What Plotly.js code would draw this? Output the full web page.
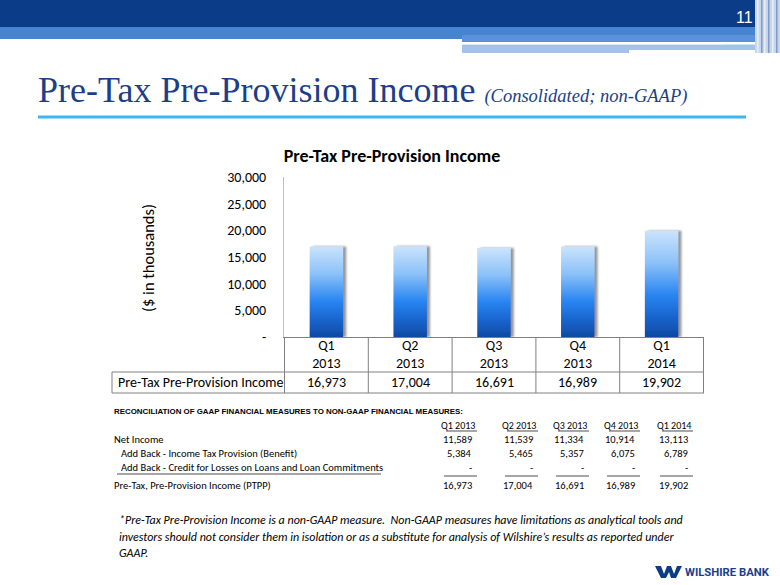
<!DOCTYPE html>
<html>
<head>
<meta charset="utf-8">
<script src="https://cdn.plot.ly/plotly-3.0.1.min.js"></script>
<style>
  html, body { margin: 0; padding: 0; background: #ffffff; }
  #chart { width: 780px; height: 585px; }
</style>
</head>
<body>
<div id="chart"></div>
<script>
// ---------------- data ----------------
const quarters = ['Q1 2013', 'Q2 2013', 'Q3 2013', 'Q4 2013', 'Q1 2014'];
const ptppIncome = [16973, 17004, 16691, 16989, 19902];
const netIncome = [11589, 11539, 11334, 10914, 13113];
const taxProvision = [5384, 5465, 5357, 6075, 6789];
const creditLosses = [0, 0, 0, 0, 0];
const yTickVals = [0, 5000, 10000, 15000, 20000, 25000, 30000];
const yTickText = ['-', '5,000', '10,000', '15,000', '20,000', '25,000', '30,000'];
const seriesName = 'Pre-Tax Pre-Provision Income';
const reconRows = ['Net Income', 'Add Back - Income Tax Provision (Benefit)',
  'Add Back - Credit for Losses on Loans and Loan Commitments', 'Pre-Tax, Pre-Provision Income (PTPP)'];

// ---------------- geometry helpers (pixel -> paper) ----------------
const L = 284, R = 704, T = 177, B = 337;
const X = px => (px - L) / (R - L);
const Y = py => (B - py) / (B - T);
const fmt = v => (v === 0 ? '-' : v.toLocaleString('en-US'));

const FONT = 'Carlito, Lato, "Liberation Sans", sans-serif';
const NAVY = '#0b3c87';

const shapes = [];
const annotations = [];
function rect(x0, y0, x1, y1, color) {
  shapes.push({type: 'rect', xref: 'paper', yref: 'paper', x0: X(x0), x1: X(x1), y0: Y(y0), y1: Y(y1),
    fillcolor: color, line: {width: 0}, layer: 'below'});
}
function hline(x0, x1, y, color, w) {
  shapes.push({type: 'line', xref: 'paper', yref: 'paper', x0: X(x0), x1: X(x1), y0: Y(y), y1: Y(y),
    line: {color: color, width: w || 1}});
}
function vlinePx(x, y0, y1, color) {
  shapes.push({type: 'line', xref: 'paper', yref: 'paper', x0: X(x), x1: X(x), y0: Y(y0), y1: Y(y1),
    line: {color: color, width: 1}});
}
function txt(px, py, text, size, opts) {
  opts = opts || {};
  annotations.push(Object.assign({
    xref: 'paper', yref: 'paper', x: X(px), y: Y(py), text: text, showarrow: false,
    xanchor: 'left', yanchor: 'middle',
    font: {family: opts.family || FONT, size: size, color: opts.color || '#000000'}
  }, opts.extra || {}));
}

// ---------------- slide header ----------------
rect(0, 0, 780, 27, NAVY);
rect(0, 27, 780, 35, '#4683d1');
rect(0, 35, 462, 39, '#4683d1');
rect(462, 35, 780, 42, '#5a91d8');
hline(462, 723, 43.5, '#ffffff', 1.5);
rect(462, 44.5, 629, 53, '#a5c3ea');
rect(629, 44.5, 760, 50, '#a5c3ea');
rect(755, 0, 780, 53, '#c9d6ea');
[757, 761, 764, 768, 772, 776].forEach((x, i) => rect(x, 0, x + 1.5, 53, i % 2 ? '#7f9cc8' : '#e8eef7'));
txt(734, 17, '11', 16, {color: '#ffffff', family: '"Liberation Sans", Arial, sans-serif', extra: {xanchor: 'left'}});

// slide title
txt(36, 90, 'Pre-Tax Pre-Provision Income <i><span style="font-size:18.5px">(Consolidated; non-GAAP)</span></i>', 36,
  {color: '#1c3f87', family: '"Liberation Serif", "DejaVu Serif", serif'});
hline(38, 746, 117, '#3fb5f2', 3);

// y-axis title
txt(148, 258, '($ in thousands)', 16.5, {extra: {textangle: -90, xanchor: 'center'}});

// ---------------- data table under the chart ----------------
const GRID = '#808080';
for (let i = 0; i <= quarters.length; i++) {
  shapes.push({type: 'line', xref: 'x', yref: 'paper', x0: i - 0.5, x1: i - 0.5, y0: 0, y1: Y(393),
    line: {color: GRID, width: 1}});
}
hline(112, 704, 372, GRID, 1);
hline(112, 704, 393, GRID, 1);
vlinePx(112, 372, 393, GRID);
txt(116, 382.5, seriesName, 14);
ptppIncome.forEach((v, i) => {
  annotations.push({xref: 'x', yref: 'paper', x: i, y: Y(382.5), text: fmt(v), showarrow: false,
    xanchor: 'center', yanchor: 'middle', font: {family: FONT, size: 14, color: '#000'}});
});

// ---------------- reconciliation table ----------------
const colRight = [476, 537, 588, 639, 692];
txt(112, 411, '<b>RECONCILIATION OF GAAP FINANCIAL MEASURES TO NON-GAAP FINANCIAL MEASURES:</b>', 7.9,
  {family: '"Liberation Sans", Arial, sans-serif'});
const rowY = [439, 453, 467, 485];
const rowX = [112, 119, 119, 112];
const rowData = [netIncome, taxProvision, creditLosses, ptppIncome];
quarters.forEach((q, i) => {
  txt(colRight[i] + 1, 425, q, 10, {extra: {xanchor: 'right'}});
  hline(colRight[i] - 30, colRight[i] + 1, 431, '#000000', 0.7);
  hline(colRight[i] - 32, colRight[i] + 1, 476, '#000000', 0.7);
});
reconRows.forEach((name, r) => {
  txt(rowX[r], rowY[r], name, 10.5);
  rowData[r].forEach((v, i) => txt(colRight[i] - 2, rowY[r], fmt(v), 10.5, {extra: {xanchor: 'right'}}));
});
hline(117, 381, 474, '#000000', 0.7);

// ---------------- footnote ----------------
const foot = ['*Pre-Tax Pre-Provision Income is a non-GAAP measure.  Non-GAAP measures have limitations as analytical tools and',
  'investors should not consider them in isolation or as a substitute for analysis of Wilshire\u2019s results as reported under',
  'GAAP.'];
foot.forEach((line, i) => txt(117, 520 + i * 16.5, '<i>' + line + '</i>', 12));

// ---------------- logo ----------------
function pathPx(pts) {
  return 'M' + pts.map(p => X(p[0]).toFixed(4) + ',' + Y(p[1]).toFixed(4)).join(' L') + ' Z';
}
shapes.push({type: 'path', xref: 'paper', yref: 'paper', fillcolor: NAVY, line: {width: 0},
  path: pathPx([[655, 566], [661, 566], [664, 574], [667, 566], [671, 566], [674, 574], [677, 566], [682, 566],
    [676, 578], [671, 578], [669, 572], [666, 578], [661, 578]])});
txt(683, 572, '<b>WILSHIRE BANK</b>', 11.3, {color: '#1b3f8a', family: 'Roboto, "Liberation Sans", sans-serif'});

// ---------------- chart ----------------
const data = [{
  type: 'bar',
  x: quarters,
  y: ptppIncome,
  name: seriesName,
  marker: {color: '#2f86ee', line: {width: 0}},
  hoverinfo: 'skip'
}];

const layout = {
  width: 780, height: 585,
  margin: {l: L, r: 780 - R, t: T, b: 585 - B, pad: 0},
  paper_bgcolor: '#ffffff', plot_bgcolor: 'rgba(0,0,0,0)',
  showlegend: false,
  bargap: 0.6,
  font: {family: FONT, size: 14, color: '#000000'},
  title: {text: '<b>Pre-Tax Pre-Provision Income</b>', x: 392 / 780, xanchor: 'center',
    y: 1 - 156 / 585, yanchor: 'middle', font: {family: FONT, size: 18, color: '#000000'}},
  xaxis: {
    type: 'category', tickvals: quarters, ticktext: quarters.map(q => q.replace(' ', '<br>')),
    ticks: '', showline: true, linecolor: GRID, linewidth: 1, showgrid: false, zeroline: false,
    ticklabelstandoff: -5,
    tickfont: {family: FONT, size: 14, color: '#000'}, automargin: false, fixedrange: true
  },
  yaxis: {
    range: [0, 30000], tickvals: yTickVals, ticktext: yTickText,
    ticks: '', showline: true, linecolor: '#bfbfbf', linewidth: 1, showgrid: false, zeroline: false,
    ticklabelstandoff: 14, tickfont: {family: FONT, size: 14, color: '#000'}, automargin: false, fixedrange: true
  },
  shapes: shapes,
  annotations: annotations
};

Plotly.newPlot('chart', data, layout, {staticPlot: true, displayModeBar: false}).then(gd => {
  const svg = gd.querySelector('.main-svg');
  const NS = 'http://www.w3.org/2000/svg';
  let defs = svg.querySelector('defs');
  if (!defs) { defs = document.createElementNS(NS, 'defs'); svg.insertBefore(defs, svg.firstChild); }
  const grad = document.createElementNS(NS, 'linearGradient');
  grad.setAttribute('id', 'barGrad');
  grad.setAttribute('x1', '0'); grad.setAttribute('y1', '0');
  grad.setAttribute('x2', '0'); grad.setAttribute('y2', '1');
  [[0, '#cbe3fc'], [0.3, '#8cc2f8'], [0.6, '#2a86f2'], [0.8, '#1a66d0'], [1, '#0e4aa2']].forEach(s => {
    const st = document.createElementNS(NS, 'stop');
    st.setAttribute('offset', s[0]); st.setAttribute('stop-color', s[1]);
    grad.appendChild(st);
  });
  defs.appendChild(grad);
  const filt = document.createElementNS(NS, 'filter');
  filt.setAttribute('id', 'barShadow');
  filt.setAttribute('x', '-20%'); filt.setAttribute('y', '-10%');
  filt.setAttribute('width', '150%'); filt.setAttribute('height', '120%');
  const ds = document.createElementNS(NS, 'feDropShadow');
  ds.setAttribute('dx', '3'); ds.setAttribute('dy', '0'); ds.setAttribute('stdDeviation', '1.2');
  ds.setAttribute('flood-color', '#7a7a7a'); ds.setAttribute('flood-opacity', '0.8');
  filt.appendChild(ds);
  defs.appendChild(filt);
  gd.querySelectorAll('.bars .point path').forEach(p => {
    p.style.fill = 'url(#barGrad)';
    p.setAttribute('filter', 'url(#barShadow)');
  });
});
</script>
</body>
</html>
